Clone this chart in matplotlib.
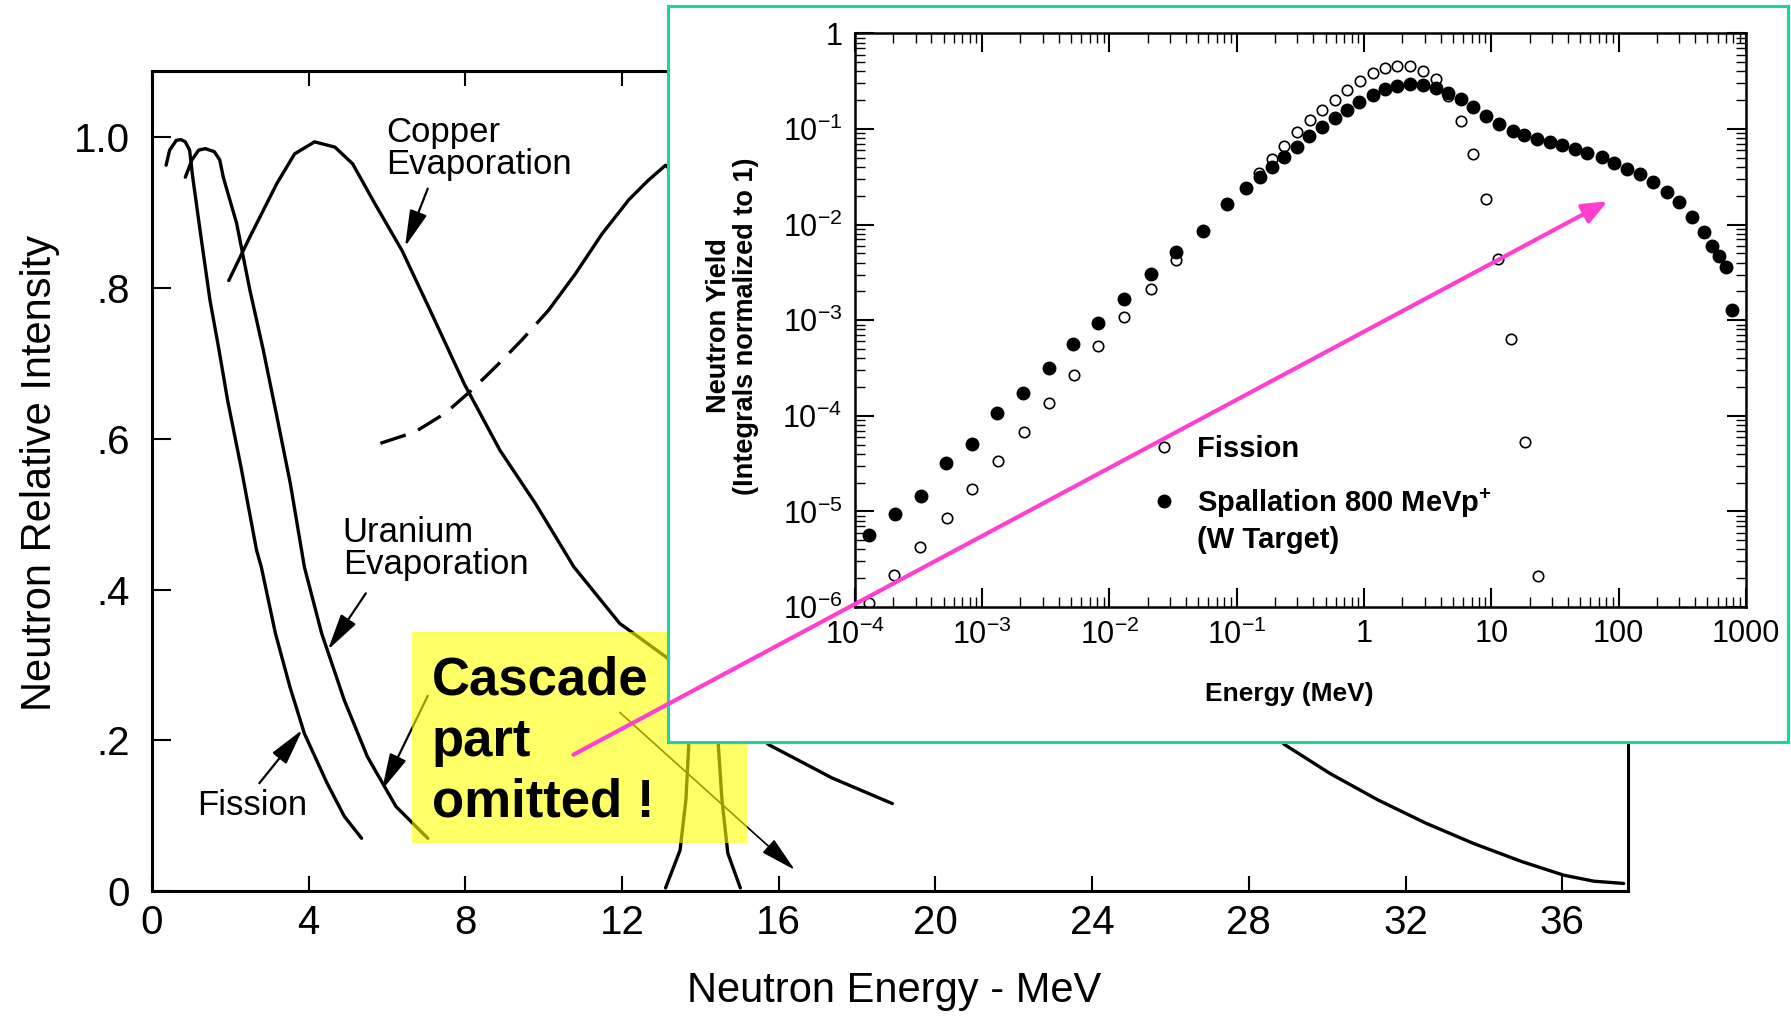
import numpy as np
import matplotlib
matplotlib.use('Agg')
from matplotlib import pyplot as plt
from matplotlib.patches import Rectangle, FancyArrowPatch
from matplotlib.lines import Line2D
from matplotlib.ticker import FixedLocator, FuncFormatter, LogLocator, NullFormatter

plt.rcParams['font.family'] = ['Liberation Sans', 'DejaVu Sans']
plt.rcParams['mathtext.default'] = 'regular'

# ---- main plot data (energy in MeV, relative intensity) ----
fission_E = [0.36, 0.45, 0.62, 0.74, 0.85, 0.96, 1.04, 1.25, 1.48, 1.71, 1.93, 2.27, 2.67, 2.79,
             3.15, 3.52, 3.89, 4.47, 4.91, 5.35]
fission_I = [0.963, 0.983, 0.996, 0.997, 0.994, 0.983, 0.947, 0.868, 0.784, 0.718, 0.651, 0.563,
             0.452, 0.430, 0.342, 0.271, 0.209, 0.143, 0.099, 0.070]

uranium_E = [0.85, 1.02, 1.19, 1.36, 1.59, 1.73, 1.82, 2.16, 2.50, 2.84, 3.19, 3.53, 3.89, 4.33,
             4.91, 5.50, 6.23, 7.04]
uranium_I = [0.947, 0.970, 0.983, 0.985, 0.981, 0.970, 0.947, 0.886, 0.797, 0.718, 0.629, 0.541,
             0.430, 0.342, 0.253, 0.178, 0.112, 0.070]

copper_E = [1.96, 2.50, 3.19, 3.64, 4.15, 4.67, 5.12, 5.69, 6.38, 7.06, 7.97, 8.88, 9.79,
            10.77, 11.94, 13.11, 15.75, 17.36, 18.90]
copper_I = [0.810, 0.868, 0.939, 0.978, 0.994, 0.987, 0.965, 0.912, 0.850, 0.775, 0.673, 0.585, 0.514,
            0.430, 0.355, 0.311, 0.194, 0.150, 0.116]

cascade_E = [5.83, 6.71, 7.49, 8.17, 8.86, 9.44, 10.13, 10.81, 11.49, 12.17, 12.67, 13.11,
             28.92, 30.07, 31.29, 32.52, 33.74, 34.97, 36.04, 36.81, 37.57]
cascade_I = [0.594, 0.609, 0.634, 0.665, 0.700, 0.731, 0.771, 0.819, 0.872, 0.917, 0.943, 0.963,
             0.194, 0.156, 0.121, 0.090, 0.063, 0.039, 0.021, 0.013, 0.010]
n_dashed = 7

dt_E = [13.11, 13.48, 13.63, 13.70, 14.08, 14.46, 14.55, 14.70, 15.02]
dt_I = [0.004, 0.054, 0.121, 0.191, 1.0, 0.191, 0.121, 0.050, 0.004]

main_xticks = [0, 4, 8, 12, 16, 20, 24, 28, 32, 36]
main_yticks = [0, 0.2, 0.4, 0.6, 0.8, 1.0]
main_ylabels = ['0', '.2', '.4', '.6', '.8', '1.0']

# ---- inset data (log10 of energy in MeV, log10 of yield) ----
spall_logE = [-3.892, -3.684, -3.482, -3.284, -3.082, -2.88, -2.678, -2.476, -2.288, -2.09,
              -1.885, -1.676, -1.474, -1.262, -1.072, -0.927, -0.82, -0.72, -0.628, -0.527,
              -0.43, -0.332, -0.229, -0.135, -0.035, 0.068, 0.166, 0.263, 0.365, 0.461,
              0.563, 0.66, 0.762, 0.858, 0.96, 1.062, 1.17, 1.26, 1.357, 1.459,
              1.556, 1.658, 1.754, 1.867, 1.964, 2.066, 2.168, 2.27, 2.378, 2.474,
              2.576, 2.672, 2.735, 2.79, 2.848, 2.888]
spall_logY = [-5.25, -5.03, -4.84, -4.495, -4.293, -3.975, -3.765, -3.50, -3.245, -3.035,
              -2.783, -2.517, -2.285, -2.071, -1.79, -1.616, -1.50, -1.40, -1.295, -1.19,
              -1.07, -0.976, -0.881, -0.80, -0.72, -0.65, -0.586, -0.552, -0.531, -0.542,
              -0.577, -0.629, -0.692, -0.776, -0.867, -0.951, -1.021, -1.066, -1.101, -1.136,
              -1.171, -1.206, -1.252, -1.294, -1.353, -1.416, -1.476, -1.556, -1.661, -1.766,
              -1.916, -2.073, -2.22, -2.325, -2.448, -2.895]

fiss_logE = [-3.892, -3.693, -3.489, -3.278, -3.08, -2.875, -2.67, -2.476, -2.28, -2.09,
             -1.885, -1.676, -1.474, -0.822, -0.725, -0.628, -0.529, -0.426, -0.332, -0.229,
             -0.132, -0.032, 0.068, 0.166, 0.263, 0.365, 0.461, 0.563, 0.66, 0.762,
             0.858, 0.96, 1.057, 1.159, 1.267, 1.364]
fiss_logY = [-5.955, -5.663, -5.37, -5.067, -4.768, -4.468, -4.165, -3.87, -3.572, -3.273,
             -2.965, -2.675, -2.371, -1.463, -1.312, -1.175, -1.032, -0.905, -0.797, -0.693,
             -0.588, -0.495, -0.42, -0.367, -0.343, -0.343, -0.392, -0.483, -0.66, -0.916,
             -1.259, -1.731, -2.36, -3.192, -4.275, -5.68]

inset_xticks = [1e-4, 1e-3, 1e-2, 1e-1, 1, 10, 100, 1000]
inset_yticks = [1e-6, 1e-5, 1e-4, 1e-3, 1e-2, 1e-1, 1]

teal = '#1dd3a0'
pink = '#ff3fcf'

fig = plt.figure(figsize=(17.91, 10.16), dpi=100)

# ================= main axes =================
ax = fig.add_axes([152 / 1791, 125 / 1016, 1476 / 1791, 820 / 1016])
ax.set_zorder(0)
line_kw = dict(color='black', lw=2.4, zorder=2, solid_joinstyle='round', solid_capstyle='round')
ax.plot(fission_E, fission_I, **line_kw)
ax.plot(uranium_E, uranium_I, **line_kw)
ax.plot(copper_E, copper_I, **line_kw)
ax.plot(cascade_E[:n_dashed], cascade_I[:n_dashed], color='black', lw=2.4,
        dashes=(8, 4), zorder=2)
ax.plot(cascade_E[n_dashed - 1:], cascade_I[n_dashed - 1:], **line_kw)
ax.plot(dt_E, dt_I, **line_kw)

ax.set_xlim(0, 37.68)
ax.set_ylim(0, 1.088)
ax.set_xticks(main_xticks)
ax.set_xticklabels([str(v) for v in main_xticks])
ax.set_yticks(main_yticks)
ax.set_yticklabels(main_ylabels)
ax.tick_params(axis='x', direction='in', top=True, length=11, width=1.5, labelsize=29, pad=9)
ax.tick_params(axis='y', direction='in', length=14, width=1.5, labelsize=29, pad=16)
for s in ax.spines.values():
    s.set_linewidth(2.2)
ax.set_xlabel('Neutron Energy - MeV', fontsize=30)
ax.xaxis.set_label_coords(0.503, -0.097)
ax.set_ylabel('Neutron Relative Intensity', fontsize=30)
ax.yaxis.set_label_coords(-0.062, 0.51)

ax.text(5.97, 0.985, 'Copper\nEvaporation', fontsize=25, ha='left', va='center', linespacing=0.95)
ax.text(4.87, 0.454, 'Uranium\nEvaporation', fontsize=25, ha='left', va='center', linespacing=0.95)
ax.text(1.14, 0.114, 'Fission', fontsize=25, ha='left', va='center')

arrow_kw = dict(arrowstyle='-|>,head_length=0.9,head_width=0.22', color='black', lw=1.6,
                shrinkA=0, shrinkB=0, mutation_scale=25)
ax.annotate('', xy=(6.46, 0.855), xytext=(7.04, 0.932), arrowprops=arrow_kw, zorder=2)
ax.annotate('', xy=(4.49, 0.320), xytext=(5.46, 0.395), arrowprops=arrow_kw, zorder=2)
ax.annotate('', xy=(3.84, 0.214), xytext=(2.74, 0.143), arrowprops=arrow_kw, zorder=2)
ax.annotate('', xy=(5.87, 0.134), xytext=(7.04, 0.259), arrowprops=arrow_kw, zorder=2)
thin_kw = dict(arrow_kw, lw=1.2)
ax.annotate('', xy=(16.41, 0.028), xytext=(11.94, 0.237), arrowprops=thin_kw, zorder=2)

# yellow note box
ax.add_patch(Rectangle((6.63, 0.064), 15.2 - 6.63, 0.344 - 0.064, facecolor=(1, 1, 0),
                       alpha=0.6, edgecolor='none', zorder=3))
ax.text(7.14, 0.198, 'Cascade\npart\nomitted !', fontsize=38, fontweight='bold',
        ha='left', va='center', linespacing=1.28, zorder=4)

# ================= inset =================
fig.add_artist(Rectangle((668 / 1791, 1 - 742 / 1016), (1788 - 668) / 1791, (742 - 6) / 1016,
                         transform=fig.transFigure, facecolor='white', edgecolor=teal,
                         lw=2.2, zorder=1))

axin = fig.add_axes([854.8 / 1791, 409 / 1016, 891 / 1791, 573.7 / 1016])
axin.set_zorder(2)
axin.set_xscale('log')
axin.set_yscale('log')
axin.plot(10 ** np.array(fiss_logE), 10 ** np.array(fiss_logY), linestyle='none', marker='o',
          markersize=7.5, markerfacecolor='white', markeredgecolor='black', markeredgewidth=1.2)
axin.plot(10 ** np.array(spall_logE), 10 ** np.array(spall_logY), linestyle='none', marker='o',
          markersize=9, color='black')
axin.set_xlim(1e-4, 1e3)
axin.set_ylim(1e-6, 1)


def log_label(v, pos):
    e = int(round(np.log10(v)))
    if e >= 0:
        return str(int(round(v)))
    return r'$\mathdefault{10^{%d}}$' % e


axin.xaxis.set_major_locator(FixedLocator(inset_xticks))
axin.yaxis.set_major_locator(FixedLocator(inset_yticks))
axin.xaxis.set_major_formatter(FuncFormatter(log_label))
axin.yaxis.set_major_formatter(FuncFormatter(log_label))
axin.xaxis.set_minor_locator(LogLocator(base=10, subs=np.arange(2, 10), numticks=20))
axin.yaxis.set_minor_locator(LogLocator(base=10, subs=np.arange(2, 10), numticks=20))
axin.xaxis.set_minor_formatter(NullFormatter())
axin.yaxis.set_minor_formatter(NullFormatter())
axin.tick_params(which='major', direction='in', top=True, right=True, length=14, width=1.5,
                 labelsize=22, pad=9)
axin.tick_params(which='minor', direction='in', top=True, right=True, length=7, width=1.0)
for s in axin.spines.values():
    s.set_linewidth(1.8)

axin.set_xlabel('Energy (MeV)', fontsize=19, fontweight='bold')
axin.xaxis.set_label_coords(0.4876, -0.131)
axin.set_ylabel('Neutron Yield\n(Integrals normalized to 1)', fontsize=19.5, fontweight='bold',
                linespacing=1.05)
axin.yaxis.set_label_coords(-0.108, 0.49)

handles = [Line2D([], [], linestyle='none', marker='o', markersize=7.5, markerfacecolor='white',
                  markeredgecolor='black', markeredgewidth=1.2),
           Line2D([], [], linestyle='none', marker='o', markersize=9, color='black')]
leg = axin.legend(handles, ['Fission', r'Spallation 800 MeVp$^{+}$'], loc='upper left',
                  bbox_to_anchor=(0.334, 0.300), frameon=False, handlelength=0.8,
                  handletextpad=0.74, borderpad=0, borderaxespad=0, labelspacing=0.8,
                  prop={'size': 21, 'weight': 'bold'})
axin.text(0.384, 0.117, '(W Target)', transform=axin.transAxes, fontsize=21,
          fontweight='bold', ha='left', va='center')

# pink pointer from the note to the inset
fig.add_artist(FancyArrowPatch((571 / 1791, 1 - 756 / 1016), (1610 / 1791, 1 - 200 / 1016),
                               transform=fig.transFigure,
                               arrowstyle='-|>,head_length=0.6,head_width=0.25',
                               mutation_scale=25, color=pink, lw=3.0, zorder=5))

fig.savefig('out.png', dpi=100)
